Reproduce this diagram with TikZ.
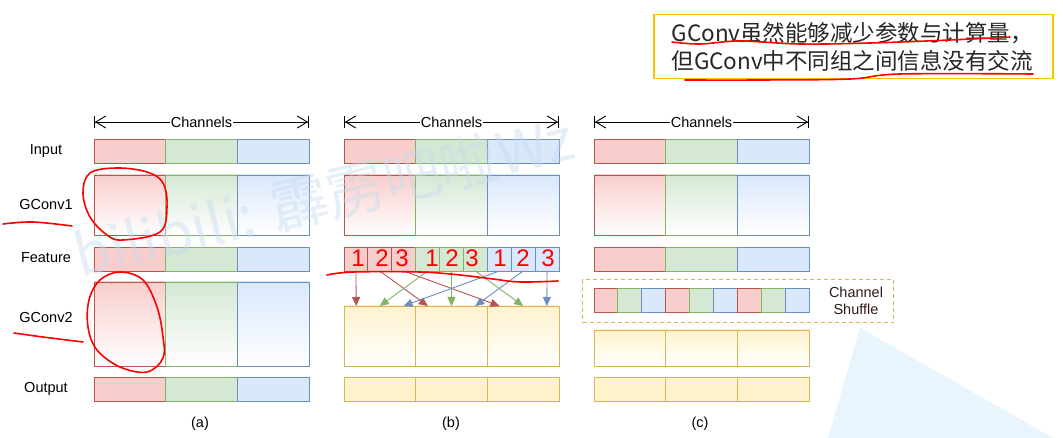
\documentclass[tikz,border=0pt]{standalone}
\usepackage{fontspec}
\setmainfont{Liberation Sans}
\newfontfamily\cjkfont{Noto Sans CJK SC}
\usetikzlibrary{arrows.meta, positioning, calc}

\definecolor{redfill}{HTML}{F8CECC}
\definecolor{redline}{HTML}{B85450}
\definecolor{greenfill}{HTML}{D5E8D4}
\definecolor{greenline}{HTML}{82B366}
\definecolor{bluefill}{HTML}{DAE8FC}
\definecolor{blueline}{HTML}{6C8EBF}
\definecolor{yellowfill}{HTML}{FFF2CC}
\definecolor{yellowline}{HTML}{D6B656}
\definecolor{noteline}{HTML}{FFC000}
\definecolor{shufftext}{HTML}{331A1A}
\definecolor{wmark}{HTML}{C2D9EE}
\definecolor{glare}{HTML}{E8F5FD}
\definecolor{pen}{HTML}{FF0000}

\tikzset{
    cell/.style={draw=#1line, fill=#1fill, line width=0.9pt, inner sep=0pt, outer sep=0pt,
        anchor=north west, minimum width=71.67pt, minimum height=24pt},
    grad/.style={cell=#1, top color=#1fill, bottom color=white},
    small/.style={cell=#1, minimum width=23.89pt},
    rowlabel/.style={font=\fontsize{14.5}{14.5}\selectfont},
    chan/.style={line width=0.9pt,
        arrows={{Bar[width=12pt]Straight Barb[length=10pt,width=12pt]}-{Straight Barb[length=10pt,width=12pt]Bar[width=12pt]}}},
    flow/.style={draw=#1line, line width=0.9pt, -{Triangle[length=9pt,width=8pt]}},
    pen/.style={draw=pen, line width=1.6pt, line cap=round, line join=round},
    digit/.style={text=pen, font=\fontsize{24}{24}\selectfont}
}

\begin{document}
\begin{tikzpicture}[x=1pt, y=-1pt]
    \useasboundingbox[fill=white] (0,0) rectangle (1063,438);

    % light reflection
    \fill[glare] (860,328) -- (828,438) -- (1053,438) -- cycle;

    % row names
    \node[rowlabel] (lin) at (46,151) {Input};
    \node[rowlabel] (lg1) at (46,205) {GConv1};
    \node[rowlabel] (lft) at (46,258) {Feature};
    \node[rowlabel] (lg2) at (46,318) {GConv2};
    \node[rowlabel] (lout) at (46,389) {Output};

    % parts shared by all three panels
    \foreach \p/\x/\cx in {a/94/200, b/344/451, c/594/700} {
        \coordinate (chl\p) at (\x,122);
        \coordinate (chr\p) at (\x+215,122);
        \draw[chan] (chl\p) -- (chr\p)
            node[midway, fill=white, inner sep=1pt, rowlabel] {Channels};
        \foreach \i/\col in {1/red, 2/green, 3/blue} {
            \node[cell=\col] (in\p\i) at ({\x+(\i-1)*71.67},139) {};
            \node[grad=\col, minimum height=60pt] (gA\p\i) at ({\x+(\i-1)*71.67},175) {};
        }
        \node[rowlabel] (cap\p) at (\cx,424) {(\p)};
    }

    % (a)
    \foreach \i/\col in {1/red, 2/green, 3/blue} {
        \node[cell=\col] (fa\i) at ({94+(\i-1)*71.67},247) {};
        \node[grad=\col, minimum height=84pt] (gBa\i) at ({94+(\i-1)*71.67},282) {};
        \node[cell=\col] (outa\i) at ({94+(\i-1)*71.67},377) {};
    }

    % (b)
    \foreach \s/\col in {1/red, 2/red, 3/red, 4/green, 5/green, 6/green, 7/blue, 8/blue, 9/blue}
        \node[small=\col] (fb\s) at ({344+(\s-1)*23.89},247) {};
    \foreach \i in {1,2,3} {
        \node[grad=yellow, minimum height=60pt] (gBb\i) at ({344+(\i-1)*71.67},306) {};
        \node[cell=yellow] (outb\i) at ({344+(\i-1)*71.67},377) {};
    }
    \foreach \s/\g/\f/\col in {1/1/0.17/red, 2/2/0.17/red, 3/3/0.17/red,
                               4/1/0.5/green, 5/2/0.5/green, 6/3/0.5/green,
                               7/1/0.83/blue, 8/2/0.83/blue, 9/3/0.83/blue}
        \draw[flow=\col] (fb\s.south) -- ($(gBb\g.north west)!\f!(gBb\g.north east)$);

    % (c)
    \foreach \i/\col in {1/red, 2/green, 3/blue}
        \node[cell=\col] (fc\i) at ({594+(\i-1)*71.67},247) {};
    \foreach \s/\col in {1/red, 2/green, 3/blue, 4/red, 5/green, 6/blue, 7/red, 8/green, 9/blue}
        \node[small=\col] (sh\s) at ({594+(\s-1)*23.89},288) {};
    \node[draw=yellowline, line width=1.4pt, dash pattern=on 4pt off 3pt, anchor=north west,
        minimum width=311pt, minimum height=43pt, inner sep=0pt] (shbox) at (582,279) {};
    \node[text=shufftext, rowlabel, align=center] (shtext) at (856,301) {Channel\\[2pt]Shuffle};
    \foreach \i in {1,2,3} {
        \node[grad=yellow, minimum height=36pt] (gBc\i) at ({594+(\i-1)*71.67},330) {};
        \node[cell=yellow] (outc\i) at ({594+(\i-1)*71.67},377) {};
    }

    % note
    \node[draw=noteline, line width=1.5pt, anchor=north west, minimum width=399pt,
        minimum height=64pt, inner sep=0pt] (note) at (653,14) {};
    \node[align=left, font=\cjkfont\fontsize{22.5}{28}\selectfont, text=black!85, anchor=west] (notetext) at (668,47)
        {GConv虽然能够减少参数与计算量，\\但GConv中不同组之间信息没有交流};

    % watermark
    \node[text=wmark, opacity=0.4, rotate=13.5, anchor=base west, inner sep=0pt,
        font=\cjkfont\fontsize{58}{58}\selectfont] (wm) at (80,278) {bilibili: 霹雳吧啦Wz};

    % handwriting
    \draw[pen] plot[smooth cycle, tension=0.6] coordinates {(90,173) (117,168) (147,172) (163,183)
        (167,207) (160,232) (123,240) (107,235) (90,217) (83,193)};
    \draw[pen] plot[smooth cycle, tension=0.6] coordinates {(120,272) (143,280) (157,307) (163,337)
        (163,358) (147,372) (120,367) (97,350) (88,327) (89,300) (100,280)};
    \draw[pen] plot[smooth, tension=0.6] coordinates {(3,224) (33,222) (72,226)};
    \draw[pen] plot[smooth, tension=0.6] coordinates {(14,333) (43,337) (83,342)};
    \draw[pen] plot[smooth, tension=0.6] coordinates {(327,275) (353,272) (420,272) (460,275)
        (493,279) (520,282) (558,281)};
    \foreach \d/\x in {1/358, 2/382, 3/402, 1/432, 2/452, 3/472, 1/500, 2/523, 3/548}
        \node[digit] at (\x,258) {\d};
    \draw[pen] plot[smooth, tension=0.6] coordinates {(672,42) (700,44) (740,41) (800,44)
        (870,43) (950,40) (1010,37)};
    \draw[pen] plot[smooth, tension=0.6] coordinates {(685,80) (760,80) (850,79) (900,74) (1033,74)};
\end{tikzpicture}
\end{document}
